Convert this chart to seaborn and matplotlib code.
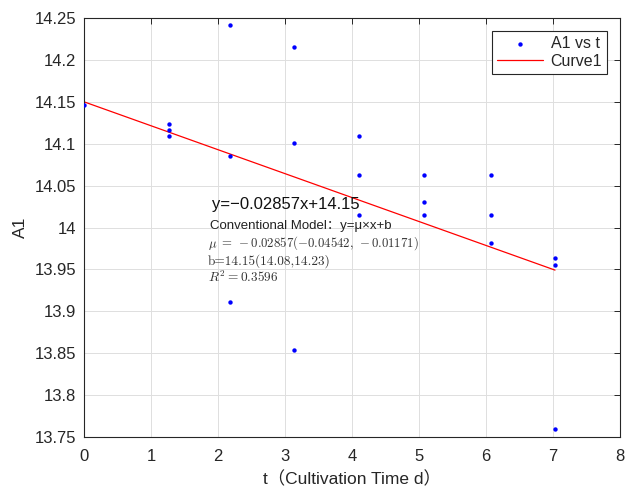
import numpy as np
import pandas as pd
import matplotlib
matplotlib.use("Agg")
import matplotlib.pyplot as plt
import seaborn as sns

# Measured A1 values against cultivation time t (days)
t_days = [0.00,
          1.27, 1.27, 1.27,
          2.18, 2.18, 2.18,
          3.14, 3.14, 3.14,
          4.10, 4.10, 4.10,
          5.07, 5.07, 5.07,
          6.07, 6.07, 6.07,
          7.03, 7.03, 7.03]
a1_values = [14.146,
             14.1235, 14.1164, 14.109,
             14.2416, 14.0857, 13.911,
             14.215, 14.101, 13.854,
             14.109, 14.063, 14.0146,
             14.063, 14.031, 14.015,
             14.063, 14.015, 13.981,
             13.964, 13.955, 13.760]

# Linear fit y = mu*x + b
fit_slope = -0.02857
fit_intercept = 14.15
fit_x = [0.0, 7.03]

x_ticks = [0, 1, 2, 3, 4, 5, 6, 7, 8]
x_tick_labels = ["0", "1", "2", "3", "4", "5", "6", "7", "8"]
y_ticks = [13.75, 13.80, 13.85, 13.90, 13.95, 14.00, 14.05, 14.10, 14.15, 14.20, 14.25]
y_tick_labels = ["13.75", "13.8", "13.85", "13.9", "13.95", "14",
                 "14.05", "14.1", "14.15", "14.2", "14.25"]

sns.set_style("whitegrid")
plt.rcParams["font.family"] = ["Liberation Sans", "Noto Sans CJK SC"]
plt.rcParams["mathtext.fontset"] = "cm"
plt.rcParams["axes.unicode_minus"] = True

points = pd.DataFrame({"t": t_days, "A1": a1_values})
fit_line = pd.DataFrame({"t": fit_x,
                         "A1": fit_slope * np.array(fit_x) + fit_intercept})

fig = plt.figure(figsize=(6.25, 4.91), dpi=100)
ax = fig.add_axes([0.1344, 0.11, 0.8576, 0.8533])

sns.scatterplot(data=points, x="t", y="A1", ax=ax, color="#0000ff",
                s=10, linewidth=0, label="A1 vs t", zorder=3)
sns.lineplot(data=fit_line, x="t", y="A1", ax=ax, color="#ff0000",
             linewidth=0.9, label="Curve1", zorder=2)

ax.set_xlim(0, 8)
ax.set_ylim(13.75, 14.25)
ax.set_xticks(x_ticks)
ax.set_xticklabels(x_tick_labels)
ax.set_yticks(y_ticks)
ax.set_yticklabels(y_tick_labels)

ax.grid(True, color="#dedede", linewidth=0.7)
ax.set_axisbelow(True)
for side in ["left", "right", "top", "bottom"]:
    ax.spines[side].set_visible(True)
    ax.spines[side].set_color("#262626")
    ax.spines[side].set_linewidth(0.8)
ax.tick_params(direction="in", top=True, right=True, length=4, width=0.7,
               color="#262626", labelsize=12, labelcolor="#262626")
ax.tick_params(axis="x", pad=8.5)
ax.tick_params(axis="y", pad=5.5)

ax.set_xlabel("t（Cultivation Time d）", fontsize=12.5, color="#262626", labelpad=5)
ax.set_ylabel("A1", fontsize=12.5, color="#262626", labelpad=5)

# Fit equation and model summary
ax.text(1.91, 14.028, "y=−0.02857x+14.15", fontsize=12, color="#111111",
        ha="left", va="center")
ax.text(1.88, 14.0015, "Conventional Model：y=μ×x+b", fontsize=9.5,
        color="#222222", ha="left", va="center")
ax.text(1.85, 13.981, r"$\mu\;=\;-0.02857(-0.04542,\,-0.01171)$", fontsize=9.2,
        color="#333333", ha="left", va="center")
ax.text(1.85, 13.960, "b=14.15(14.08,14.23)", fontsize=9.6, family="cmr10",
        color="#333333", ha="left", va="center")
ax.text(1.85, 13.941, r"$R^2 = 0.3596$", fontsize=9.6,
        color="#333333", ha="left", va="center")

leg = ax.legend(loc="upper right", bbox_to_anchor=(0.9757, 0.969),
                borderaxespad=0, fancybox=False, framealpha=1,
                edgecolor="#262626", fontsize=11.5, handlelength=2.9,
                handletextpad=0.45, labelspacing=0.2, borderpad=0.3,
                markerscale=1.0)
leg.get_frame().set_linewidth(0.8)
for txt in leg.get_texts():
    txt.set_color("#262626")

fig.savefig("out.png", dpi=100, facecolor="white")
